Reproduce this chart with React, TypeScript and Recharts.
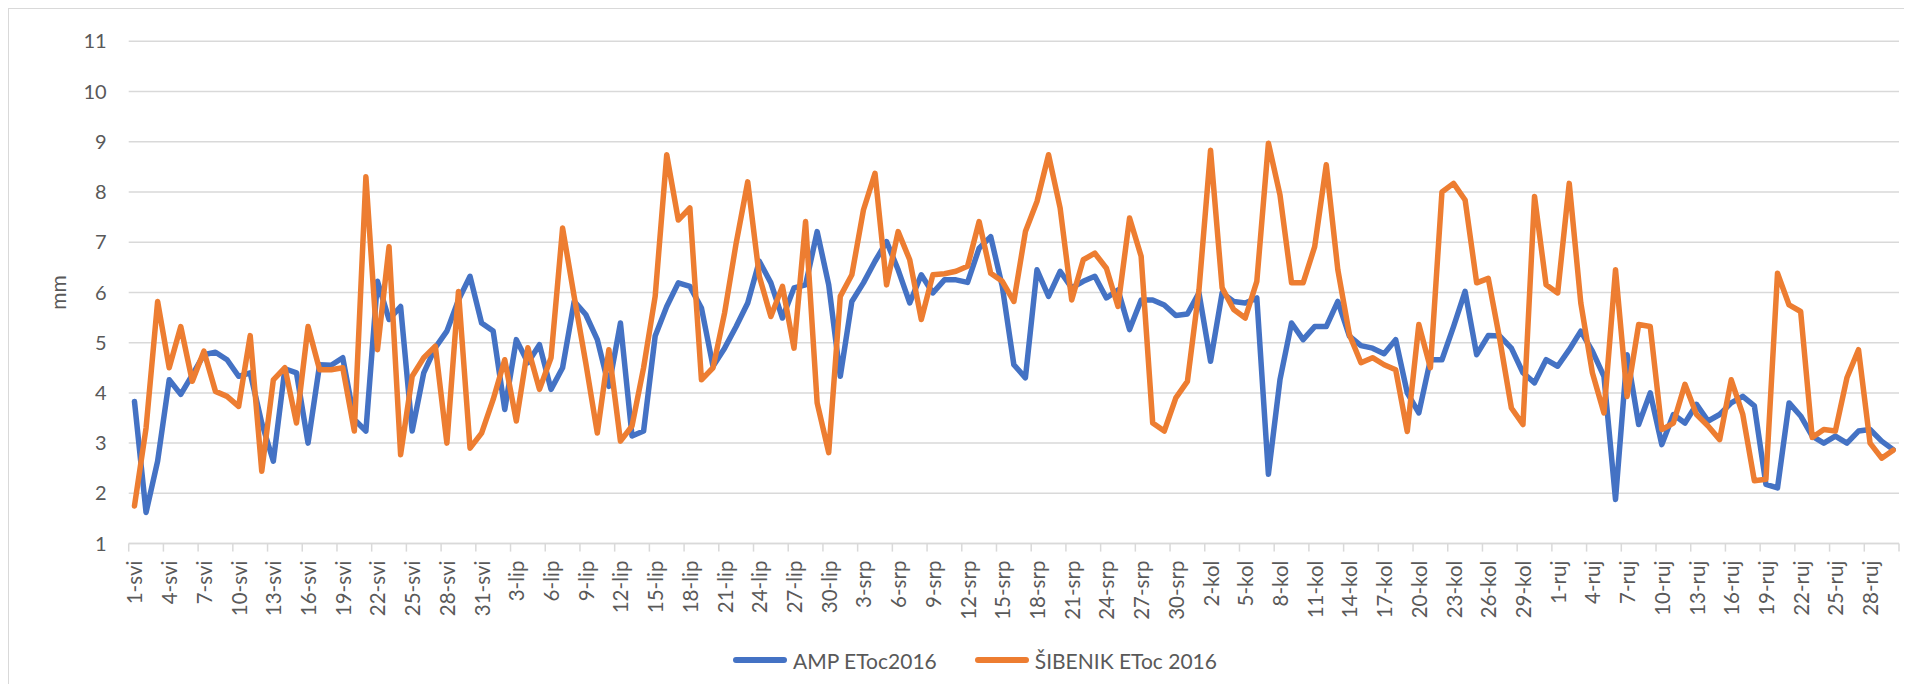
import React from 'react';
import { LineChart, Line, XAxis, YAxis, CartesianGrid } from 'recharts';

// months (Croatian abbreviations) and their lengths, 1 May - 30 Sep 2016
const MONTHS = ['svi', 'lip', 'srp', 'kol', 'ruj'];
const MONTH_DAYS = [31, 30, 31, 31, 30];

const DAY_LABELS: string[] = [];
MONTHS.forEach((m, mi) => {
  for (let d = 1; d <= MONTH_DAYS[mi]; d++) DAY_LABELS.push(`${d}-${m}`);
});

const AMP_ETOC = [
  3.83, 1.62, 2.64, 4.26, 3.97, 4.36, 4.76, 4.81, 4.66, 4.33, 4.4, 3.4, 2.64, 4.48, 4.4, 3.0,
  4.56, 4.55, 4.7, 3.47, 3.24, 6.22, 5.46, 5.72, 3.24, 4.4, 4.9, 5.23, 5.85, 6.32, 5.39,
  5.23, 3.67, 5.06, 4.6, 4.96, 4.07, 4.5, 5.82, 5.56, 5.06, 4.13, 5.39, 3.14, 3.24, 5.13,
  5.72, 6.19, 6.12, 5.69, 4.53, 4.89, 5.32, 5.79, 6.62, 6.19, 5.49, 6.09, 6.15, 7.21, 6.15,
  4.33, 5.82, 6.19, 6.62, 7.01, 6.45, 5.79, 6.35, 5.99, 6.25, 6.25, 6.2, 6.88, 7.11, 6.12,
  4.56, 4.3, 6.45, 5.92, 6.42, 6.09, 6.22, 6.32, 5.89, 6.05, 5.26, 5.85, 5.85, 5.75, 5.54,
  5.57, 5.99, 4.63, 5.99, 5.82, 5.79, 5.89, 2.38, 4.26, 5.39, 5.06, 5.32, 5.32, 5.82, 5.13,
  4.94, 4.89, 4.78, 5.06, 4.0, 3.6, 4.66, 4.66, 5.32, 6.02, 4.76, 5.14, 5.13, 4.89, 4.4,
  4.2, 4.66, 4.53, 4.86, 5.23, 4.83, 4.33, 1.88, 4.76, 3.37, 4.0, 2.97, 3.57, 3.4, 3.77,
  3.44, 3.57, 3.8, 3.93, 3.74, 2.18, 2.11, 3.8, 3.54, 3.14, 3.0, 3.14, 3.0, 3.24, 3.27,
  3.04, 2.87,
];

const SIBENIK_ETOC = [
  1.75, 3.3, 5.82, 4.5, 5.32, 4.23, 4.83, 4.03, 3.93, 3.73, 5.14, 2.44, 4.26, 4.5, 3.4, 5.32,
  4.46, 4.46, 4.5, 3.24, 8.3, 4.86, 6.91, 2.77, 4.33, 4.7, 4.93, 3.0, 6.02, 2.9, 3.2,
  3.87, 4.66, 3.44, 4.9, 4.07, 4.7, 7.28, 5.92, 4.6, 3.2, 4.86, 3.04, 3.34, 4.5, 5.92,
  8.74, 7.44, 7.68, 4.26, 4.5, 5.59, 6.98, 8.2, 6.32, 5.52, 6.12, 4.89, 7.41, 3.8, 2.81,
  5.92, 6.35, 7.64, 8.37, 6.15, 7.21, 6.65, 5.46, 6.35, 6.37, 6.42, 6.52, 7.41, 6.38, 6.22,
  5.82, 7.21, 7.81, 8.74, 7.68, 5.85, 6.65, 6.78, 6.48, 5.72, 7.48, 6.72, 3.4, 3.24, 3.9,
  4.23, 6.05, 8.83, 6.09, 5.66, 5.49, 6.22, 8.97, 7.94, 6.19, 6.19, 6.91, 8.54, 6.45, 5.16,
  4.6, 4.7, 4.56, 4.46, 3.23, 5.36, 4.5, 8.0, 8.17, 7.84, 6.19, 6.28, 5.06, 3.7, 3.37,
  7.91, 6.15, 5.99, 8.17, 5.79, 4.4, 3.6, 6.45, 3.93, 5.36, 5.32, 3.27, 3.4, 4.17, 3.57,
  3.34, 3.07, 4.26, 3.57, 2.25, 2.28, 6.38, 5.75, 5.62, 3.11, 3.27, 3.24, 4.3, 4.86, 3.0,
  2.7, 2.86,
];

const Y_TICKS = [1, 2, 3, 4, 5, 6, 7, 8, 9, 10, 11];

const SERIES = [
  { key: 'amp', name: 'AMP EToc2016', color: '#4472C4' },
  { key: 'sib', name: 'ŠIBENIK EToc 2016', color: '#ED7D31' },
];

const data = DAY_LABELS.map((day, i) => ({
  day,
  amp: AMP_ETOC[i],
  sib: SIBENIK_ETOC[i],
}));

const W = 1903;
const H = 675;
const Y_AXIS_W = 119.7;
const MARGIN = { top: 32.2, right: 13, left: 0, bottom: 50 };
const PLOT_W = W - Y_AXIS_W - MARGIN.right - MARGIN.left;
const STEP = PLOT_W / DAY_LABELS.length;
const LAST_TICK = DAY_LABELS[DAY_LABELS.length - 1 - ((DAY_LABELS.length - 1) % 3)];

const FONT = 'Lato, "Open Sans", sans-serif';
const TEXT_COLOR = '#595959';
const GRID = '#d9d9d9';

// excel style: tick marks sit between categories, label on the category
const DayTick = (props: any) => {
  const { x, y, payload } = props;
  const bx = x - STEP / 2;
  const ty = y + 17;
  return (
    <g>
      <line x1={bx} y1={y} x2={bx} y2={y + 8} stroke={GRID} strokeWidth={1.5} />
      {payload.value === LAST_TICK && (
        <line x1={bx + 3 * STEP} y1={y} x2={bx + 3 * STEP} y2={y + 8} stroke={GRID} strokeWidth={1.5} />
      )}
      <text
        x={x}
        y={ty}
        transform={`rotate(-90, ${x}, ${ty})`}
        textAnchor="end"
        dominantBaseline="central"
        fill={TEXT_COLOR}
        fontSize={20.5}
        fontFamily={FONT}
      >
        {payload.value}
      </text>
    </g>
  );
};

export default function App() {
  return (
    <div
      style={{
        position: 'relative',
        width: W,
        height: H,
        borderTop: `1px solid ${GRID}`,
        borderLeft: `1px solid ${GRID}`,
        background: '#fff',
        fontFamily: FONT,
      }}
    >
      <LineChart width={W} height={H} data={data} margin={MARGIN}>
        <CartesianGrid vertical={false} stroke={GRID} strokeWidth={1.5} />
        <XAxis
          dataKey="day"
          interval={2}
          height={H - MARGIN.top - MARGIN.bottom - 502.4}
          padding={{ left: STEP / 2, right: STEP / 2 }}
          axisLine={{ stroke: GRID, strokeWidth: 1.5 }}
          tickLine={false}
          tickSize={0}
          tickMargin={0}
          tick={<DayTick />}
        />
        <YAxis
          width={Y_AXIS_W}
          domain={[1, 11]}
          ticks={Y_TICKS}
          interval={0}
          axisLine={false}
          tickLine={false}
          tickSize={0}
          tickMargin={22}
          tick={{ fill: TEXT_COLOR, fontSize: 20, fontFamily: FONT }}
          label={{
            value: 'mm',
            angle: -90,
            position: 'insideLeft',
            offset: 50,
            style: { textAnchor: 'middle', fill: TEXT_COLOR, fontSize: 21, fontFamily: FONT },
          }}
        />
        {SERIES.map((s) => (
          <Line
            key={s.key}
            type="linear"
            dataKey={s.key}
            name={s.name}
            stroke={s.color}
            strokeWidth={5.5}
            strokeLinejoin="round"
            strokeLinecap="round"
            dot={false}
            activeDot={false}
            isAnimationActive={false}
          />
        ))}
      </LineChart>
      <div
        style={{
          position: 'absolute',
          left: 724,
          top: 638,
          height: 26,
          display: 'flex',
          alignItems: 'center',
          fontSize: 21,
          color: TEXT_COLOR,
          whiteSpace: 'nowrap',
        }}
      >
        {SERIES.map((s, i) => (
          <div key={s.key} style={{ display: 'flex', alignItems: 'center', marginLeft: i ? 38 : 0 }}>
            <div style={{ width: 54, height: 5.5, borderRadius: 3, background: s.color, marginRight: 6 }} />
            <span>{s.name}</span>
          </div>
        ))}
      </div>
    </div>
  );
}
